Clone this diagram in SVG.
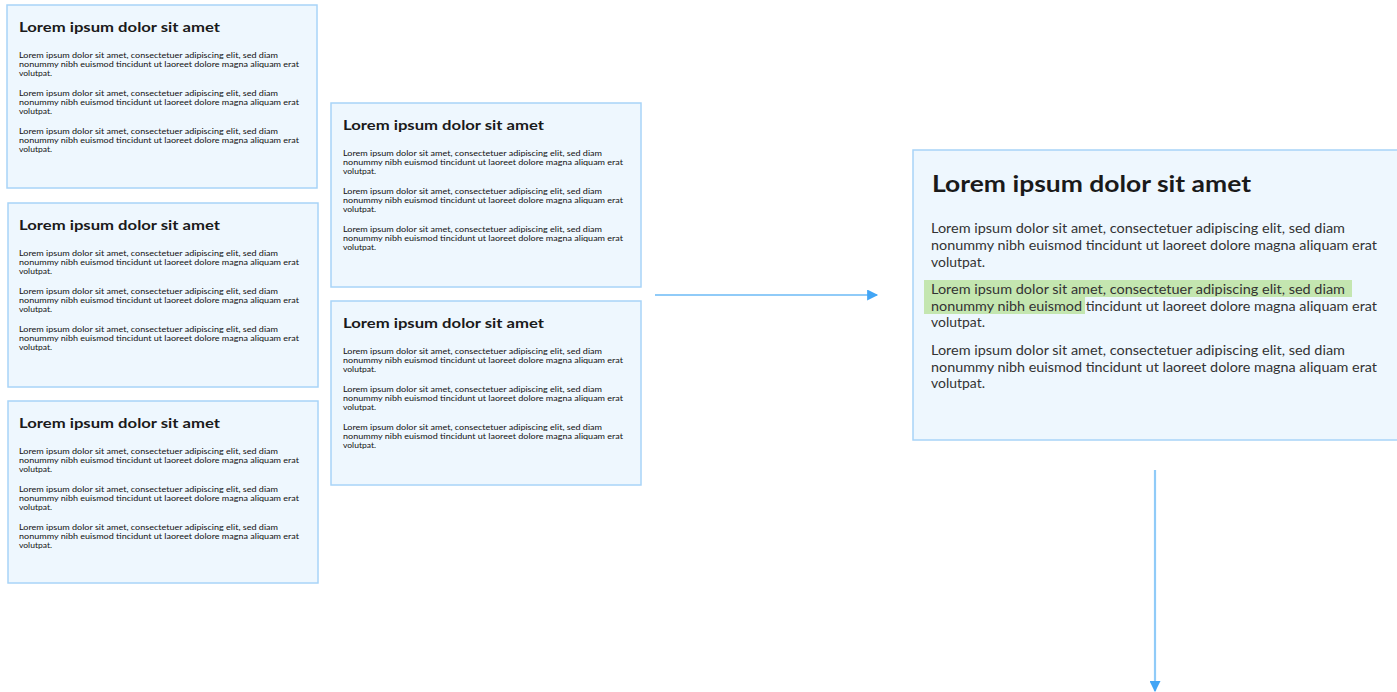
<svg xmlns="http://www.w3.org/2000/svg" width="1397" height="692" viewBox="0 0 1397 692">
<style>
.box{fill:#eef7fe;stroke:#a8d4f8;stroke-width:1.5}
.t{font-family:Lato,"Noto Sans","Liberation Sans",sans-serif;font-weight:bold;fill:#1a1a1a}
.b{font-family:Lato,"Noto Sans","Liberation Sans",sans-serif;fill:#111}
.st{font-size:14px}
.sb{font-size:7.5px}
.lt{font-size:22px}
.lb{font-size:14px;fill:#333}
.hl{fill:#c4e6b0}
.edge{stroke:#90cbf8;stroke-width:2.2;fill:none}
</style>
<defs>
<marker id="ah" viewBox="0 0 10 10" refX="9" refY="5" markerWidth="12" markerHeight="11" orient="auto" markerUnits="userSpaceOnUse"><path d="M0,0L10,5L0,10z" fill="#42a5f5"/></marker>
<g id="small">
<text class="t st" x="12" y="27" textLength="201" lengthAdjust="spacingAndGlyphs">Lorem ipsum dolor sit amet</text>
<text class="b sb" x="12" y="52.5" textLength="259" lengthAdjust="spacingAndGlyphs">Lorem ipsum dolor sit amet, consectetuer adipiscing elit, sed diam</text>
<text class="b sb" x="12" y="61.5" textLength="280" lengthAdjust="spacingAndGlyphs">nonummy nibh euismod tincidunt ut laoreet dolore magna aliquam erat</text>
<text class="b sb" x="12" y="70.5" textLength="33" lengthAdjust="spacingAndGlyphs">volutpat.</text>
<text class="b sb" x="12" y="90.5" textLength="259" lengthAdjust="spacingAndGlyphs">Lorem ipsum dolor sit amet, consectetuer adipiscing elit, sed diam</text>
<text class="b sb" x="12" y="99.5" textLength="280" lengthAdjust="spacingAndGlyphs">nonummy nibh euismod tincidunt ut laoreet dolore magna aliquam erat</text>
<text class="b sb" x="12" y="108.5" textLength="33" lengthAdjust="spacingAndGlyphs">volutpat.</text>
<text class="b sb" x="12" y="128.5" textLength="259" lengthAdjust="spacingAndGlyphs">Lorem ipsum dolor sit amet, consectetuer adipiscing elit, sed diam</text>
<text class="b sb" x="12" y="137.5" textLength="280" lengthAdjust="spacingAndGlyphs">nonummy nibh euismod tincidunt ut laoreet dolore magna aliquam erat</text>
<text class="b sb" x="12" y="146.5" textLength="33" lengthAdjust="spacingAndGlyphs">volutpat.</text>
</g>
</defs>
<g id="node1"><rect class="box" x="7" y="5" width="310" height="183"/><use href="#small" x="7" y="5"/></g>
<g id="node2"><rect class="box" x="8" y="203" width="310" height="184"/><use href="#small" x="7" y="203"/></g>
<g id="node3"><rect class="box" x="8" y="401" width="310" height="182"/><use href="#small" x="7" y="401"/></g>
<g id="node4"><rect class="box" x="331" y="103" width="310" height="184"/><use href="#small" x="331" y="103"/></g>
<g id="node5"><rect class="box" x="331" y="301" width="310" height="184"/><use href="#small" x="331" y="301"/></g>
<g id="node6">
<rect class="box" x="913" y="150" width="490" height="290"/>
<rect class="hl" x="924" y="280" width="428" height="17"/>
<rect class="hl" x="924" y="297" width="161" height="17"/>
<text class="t lt" x="932" y="192" textLength="319" lengthAdjust="spacingAndGlyphs">Lorem ipsum dolor sit amet</text>
<text class="b lb" x="931" y="233" textLength="414" lengthAdjust="spacingAndGlyphs">Lorem ipsum dolor sit amet, consectetuer adipiscing elit, sed diam</text>
<text class="b lb" x="931" y="250" textLength="446" lengthAdjust="spacingAndGlyphs">nonummy nibh euismod tincidunt ut laoreet dolore magna aliquam erat</text>
<text class="b lb" x="931" y="266.5" textLength="54" lengthAdjust="spacingAndGlyphs">volutpat.</text>
<text class="b lb" x="931" y="294" textLength="414" lengthAdjust="spacingAndGlyphs">Lorem ipsum dolor sit amet, consectetuer adipiscing elit, sed diam</text>
<text class="b lb" x="931" y="310.5" textLength="446" lengthAdjust="spacingAndGlyphs">nonummy nibh euismod tincidunt ut laoreet dolore magna aliquam erat</text>
<text class="b lb" x="931" y="327" textLength="54" lengthAdjust="spacingAndGlyphs">volutpat.</text>
<text class="b lb" x="931" y="355" textLength="414" lengthAdjust="spacingAndGlyphs">Lorem ipsum dolor sit amet, consectetuer adipiscing elit, sed diam</text>
<text class="b lb" x="931" y="371.5" textLength="446" lengthAdjust="spacingAndGlyphs">nonummy nibh euismod tincidunt ut laoreet dolore magna aliquam erat</text>
<text class="b lb" x="931" y="388" textLength="54" lengthAdjust="spacingAndGlyphs">volutpat.</text>
</g>
<g id="connectors">
<path class="edge" d="M655,295H877" marker-end="url(#ah)"/>
<path class="edge" d="M1155,470V691" marker-end="url(#ah)"/>
</g>
</svg>
